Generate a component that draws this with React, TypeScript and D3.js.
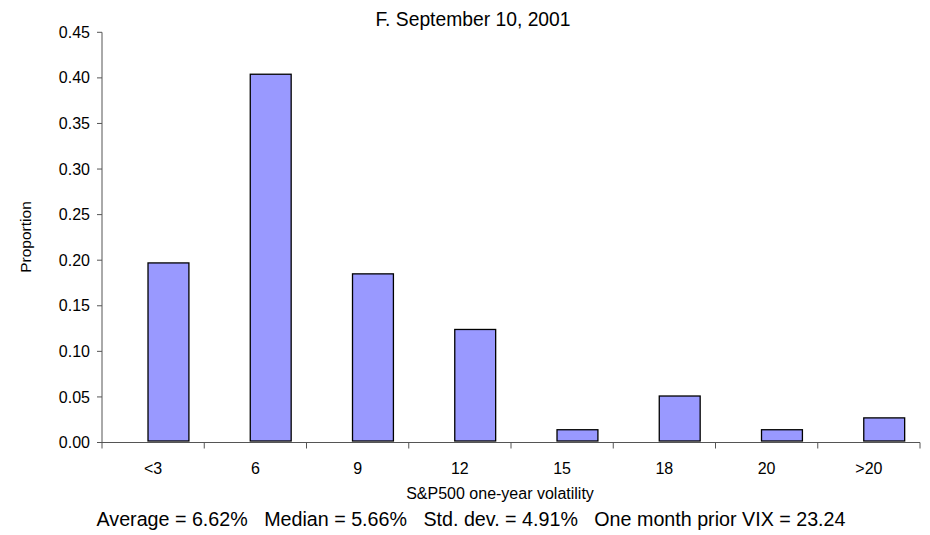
import React from "react";
import * as d3 from "d3";

const categories = ["<3", "6", "9", "12", "15", "18", "20", ">20"];
const proportions = [0.197, 0.404, 0.185, 0.124, 0.014, 0.051, 0.014, 0.027];
const yTicks = [0, 0.05, 0.1, 0.15, 0.2, 0.25, 0.3, 0.35, 0.4, 0.45];
const title = "F. September 10, 2001";
const xTitle = "S&P500 one-year volatility";
const yTitle = "Proportion";
const footer = "Average = 6.62%   Median = 5.66%   Std. dev. = 4.91%   One month prior VIX = 23.24";

const W = 930;
const H = 535;
const left = 102;
const right = 920;
const top = 32.3;
const bottom = 442.5;

export default function App() {
  const x = d3.scaleBand<string>().domain(categories).range([left, right]).padding(0);
  const y = d3.scaleLinear().domain([0, 0.45]).range([bottom, top]);
  const bw = x.bandwidth();
  const barW = bw * 0.4;
  const barOffset = bw * 0.45;
  const font = "'Liberation Sans', Arial, sans-serif";
  const axisColor = "#555";

  return (
    <svg width={W} height={H} style={{ position: "absolute", left: 0, top: 0, background: "#fff" }} fontFamily={font}>
      <text x={473} y={26} textAnchor="middle" fontSize={19.3} fill="#000">{title}</text>
      {categories.map((c, i) => (
        <rect
          key={c}
          x={(x(c) as number) + barOffset}
          y={y(proportions[i])}
          width={barW}
          height={y(0) - y(proportions[i]) - 1.5}
          fill="#9999FF"
          stroke="#000"
          strokeWidth={1.3}
        />
      ))}
      <line x1={left} x2={left} y1={top} y2={bottom} stroke={axisColor} strokeWidth={1} />
      {yTicks.map((t) => (
        <g key={t}>
          <line x1={left - 5} x2={left} y1={y(t)} y2={y(t)} stroke={axisColor} />
          <text x={90} y={y(t)} dy="0.35em" textAnchor="end" fontSize={16} fill="#000">
            {t.toFixed(2)}
          </text>
        </g>
      ))}
      <line x1={left} x2={right} y1={bottom} y2={bottom} stroke={axisColor} strokeWidth={1.2} />
      {categories.map((c) => (
        <line key={"t" + c} x1={x(c) as number} x2={x(c) as number} y1={bottom} y2={bottom + 6} stroke={axisColor} />
      ))}
      <line x1={right} x2={right} y1={bottom} y2={bottom + 6} stroke={axisColor} />
      {categories.map((c) => (
        <text key={"l" + c} x={(x(c) as number) + bw / 2} y={468} dy="0.35em" textAnchor="middle" fontSize={16} fill="#000">
          {c}
        </text>
      ))}
      <text x={500} y={499} textAnchor="middle" fontSize={16} fill="#000">{xTitle}</text>
      <text transform={`translate(26,237) rotate(-90)`} textAnchor="middle" dy="0.35em" fontSize={15.5} fill="#000">{yTitle}</text>
      <text x={471} y={526} textAnchor="middle" fontSize={19.7} fill="#000" style={{ whiteSpace: "pre" }}>{footer}</text>
    </svg>
  );
}
